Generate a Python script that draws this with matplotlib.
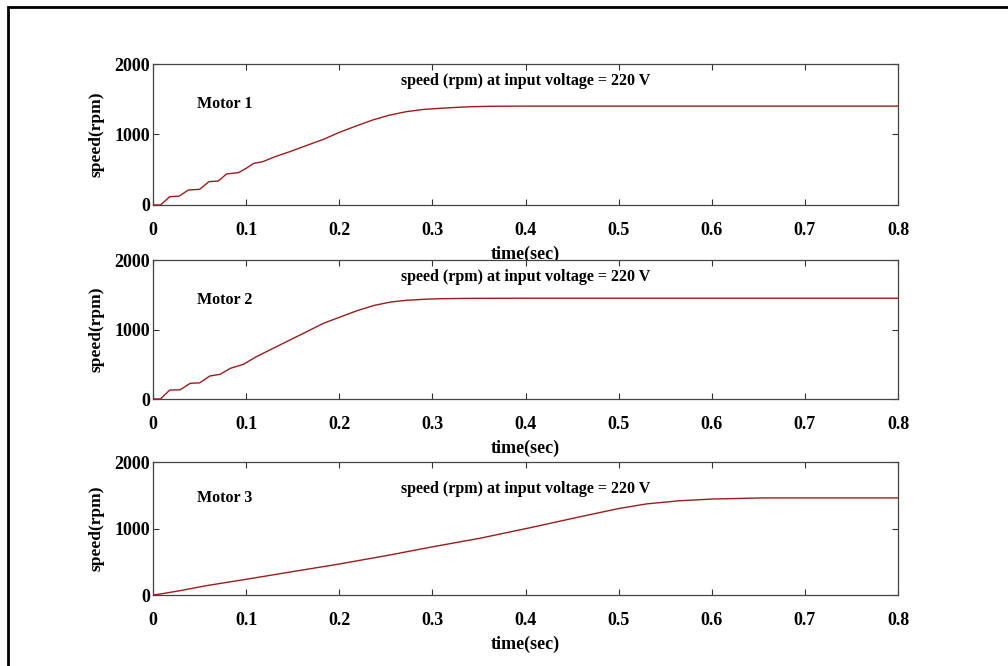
import matplotlib
matplotlib.use('Agg')
import matplotlib.pyplot as plt
from matplotlib.patches import Rectangle

plt.rcParams['font.family'] = 'Liberation Serif'
plt.rcParams['font.weight'] = 'bold'

# motor 1
t1 = [0, 0.008, 0.018, 0.028, 0.038, 0.05, 0.06, 0.07, 0.079, 0.092, 0.1, 0.108, 0.118,
      0.13, 0.147, 0.165, 0.183, 0.2, 0.218, 0.236, 0.254, 0.272, 0.29, 0.308, 0.326,
      0.344, 0.362, 0.4, 0.5, 0.8]
v1 = [0, 0, 118, 125, 213, 222, 331, 340, 440, 460, 520, 590, 615,
      680, 757, 845, 931, 1030, 1120, 1206, 1275, 1324, 1355, 1371, 1385,
      1395, 1400, 1403, 1403, 1403]

# motor 2
t2 = [0, 0.008, 0.018, 0.029, 0.04, 0.05, 0.061, 0.072, 0.083, 0.097, 0.111, 0.129,
      0.147, 0.165, 0.183, 0.2, 0.219, 0.237, 0.255, 0.272, 0.29, 0.308, 0.34, 0.4, 0.8]
v2 = [0, 0, 129, 132, 226, 232, 331, 355, 441, 499, 609, 729,
      849, 968, 1089, 1175, 1270, 1345, 1395, 1420, 1434, 1443, 1448, 1450, 1450]

# motor 3
t3 = [0, 0.01, 0.029, 0.057, 0.1, 0.147, 0.2, 0.254, 0.301, 0.351, 0.405, 0.459,
      0.5, 0.53, 0.566, 0.601, 0.655, 0.7, 0.8]
v3 = [0, 20, 65, 140, 236, 345, 466, 601, 727, 853, 1012, 1178,
      1300, 1370, 1418, 1443, 1460, 1460, 1460]

names = ['Motor 1', 'Motor 2', 'Motor 3']
note = 'speed (rpm) at input voltage = 220 V'
note_y = [1760, 1755, 1600]
name_y = [1430, 1425, 1460]
xt = [0, 0.1, 0.2, 0.3, 0.4, 0.5, 0.6, 0.7, 0.8]
xtl = ['0', '0.1', '0.2', '0.3', '0.4', '0.5', '0.6', '0.7', '0.8']
yt = [0, 1000, 2000]

fig = plt.figure(figsize=(10.08, 6.66), dpi=100)
boxes = [[0.1518, 0.6922, 0.7391, 0.2117],
         [0.1518, 0.4009, 0.7391, 0.2087],
         [0.1518, 0.1066, 0.7391, 0.1997]]
data = [(t1, v1), (t2, v2), (t3, v3)]

for i in range(3):
    ax = fig.add_axes(boxes[i])
    t, v = data[i]
    ax.plot(t, v, color='#9b1c1c', lw=1.0)
    ax.set_xlim(0, 0.8)
    ax.set_ylim(0, 2000)
    ax.set_xticks(xt)
    ax.set_xticklabels(xtl)
    ax.set_yticks(yt)
    ax.tick_params(direction='in', top=True, right=True, length=4, width=0.8,
                   color='#333333', labelsize=13)
    ax.tick_params(axis='x', pad=12)
    ax.tick_params(axis='y', pad=2)
    for s in ax.spines.values():
        s.set_color('#444444')
        s.set_linewidth(0.9)
    ax.set_xlabel('time(sec)', fontsize=13, fontweight='bold', labelpad=5)
    ax.set_ylabel('speed(rpm)', fontsize=12.5, fontweight='bold', labelpad=7)
    ax.text(0.4, note_y[i], note, fontsize=11.5, fontweight='bold', ha='center', va='center')
    ax.text(0.047, name_y[i], names[i], fontsize=11.5, fontweight='bold', ha='left', va='center')

# outer frame, cut off on right and bottom
fig.add_artist(Rectangle((8 / 1008, -0.1), 1.2, 1.1 - 7 / 666, transform=fig.transFigure,
                         fill=False, lw=2, edgecolor='black'))

fig.savefig('out.png', dpi=100)
